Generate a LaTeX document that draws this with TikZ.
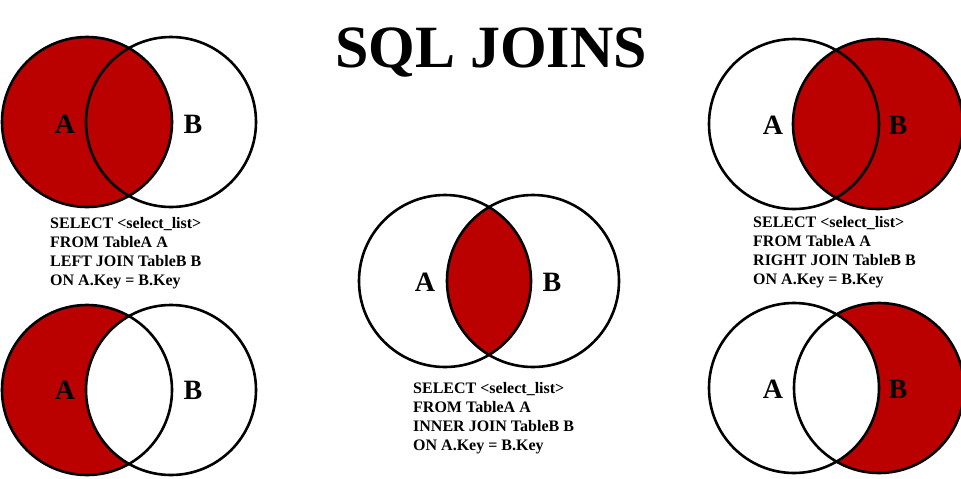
\documentclass[tikz,border=0pt]{standalone}
\usepackage{fontspec}
\setmainfont{Liberation Serif}
\definecolor{joinred}{RGB}{187,0,0}
\begin{document}
\begin{tikzpicture}[x=1pt,y=-1pt,
  ring/.style={draw=black, line width=2.6pt},
  setlabel/.style={anchor=base, inner sep=0pt, font=\fontsize{28}{28}\selectfont\bfseries},
  sqlline/.style={anchor=base west, inner sep=0pt, font=\fontsize{16}{16}\selectfont\bfseries},
  heading/.style={anchor=base, inner sep=0pt, font=\fontsize{60}{60}\selectfont\bfseries}]

\useasboundingbox (0,0) rectangle (961,479);
\fill[white] (0,0) rectangle (961,479);

% centres of the ten sets
\coordinate (lA)  at (87,122);  \coordinate (lB)  at (171,122);
\coordinate (loA) at (87,390);  \coordinate (loB) at (171,390);
\coordinate (iA)  at (445,281); \coordinate (iB)  at (533,281);
\coordinate (rA)  at (794,124); \coordinate (rB)  at (878,124);
\coordinate (roA) at (794,388); \coordinate (roB) at (879,388);

% title
\node[heading] (title) at (491,67) {SQL JOINS};

% LEFT JOIN: all of A
\fill[joinred] (lA) circle (85pt);
\draw[ring] (lA) circle (85pt) (lB) circle (85pt);
\node[setlabel] (lAlabel) at (65,133) {A};
\node[setlabel] (lBlabel) at (193,133) {B};
\node[sqlline] (l1) at (50,228) {SELECT <select\_list>};
\node[sqlline] (l2) at (50,247) {FROM TableA A};
\node[sqlline] (l3) at (50,266) {LEFT JOIN TableB B};
\node[sqlline] (l4) at (50,285) {ON A.Key = B.Key};

% A only: A without the overlap
\fill[joinred] (loA) circle (85pt);
\begin{scope}
  \clip (loB) circle (85pt);
  \fill[white] (loA) circle (85pt);
\end{scope}
\draw[ring] (loA) circle (85pt) (loB) circle (85pt);
\node[setlabel] (loAlabel) at (65,399) {A};
\node[setlabel] (loBlabel) at (193,399) {B};

% INNER JOIN: the overlap
\begin{scope}
  \clip (iA) circle (86pt);
  \fill[joinred] (iB) circle (86pt);
\end{scope}
\draw[ring] (iA) circle (86pt) (iB) circle (86pt);
\node[setlabel] (iAlabel) at (425,291) {A};
\node[setlabel] (iBlabel) at (552,291) {B};
\node[sqlline] (i1) at (413,393) {SELECT <select\_list>};
\node[sqlline] (i2) at (413,412) {FROM TableA A};
\node[sqlline] (i3) at (413,431) {INNER JOIN TableB B};
\node[sqlline] (i4) at (413,450) {ON A.Key = B.Key};

% RIGHT JOIN: all of B
\fill[joinred] (rB) circle (85pt);
\draw[ring] (rA) circle (85pt) (rB) circle (85pt);
\node[setlabel] (rAlabel) at (773,134) {A};
\node[setlabel] (rBlabel) at (898,134) {B};
\node[sqlline] (r1) at (753,227) {SELECT <select\_list>};
\node[sqlline] (r2) at (753,246) {FROM TableA A};
\node[sqlline] (r3) at (753,265) {RIGHT JOIN TableB B};
\node[sqlline] (r4) at (753,284) {ON A.Key = B.Key};

% B only: B without the overlap
\fill[joinred] (roB) circle (85pt);
\begin{scope}
  \clip (roA) circle (85pt);
  \fill[white] (roB) circle (85pt);
\end{scope}
\draw[ring] (roA) circle (85pt) (roB) circle (85pt);
\node[setlabel] (roAlabel) at (773,398) {A};
\node[setlabel] (roBlabel) at (898,398) {B};

\end{tikzpicture}
\end{document}
